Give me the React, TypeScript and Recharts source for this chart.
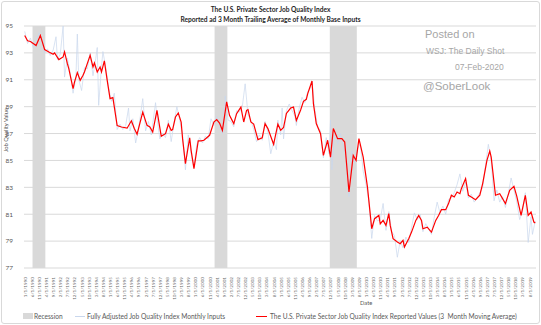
import { ComposedChart, Line, XAxis, YAxis, CartesianGrid, ReferenceArea } from 'recharts';

// x values are months counted from Jan 1990 (0 = 1/1/1990)
const avgMonths = [
  0, 2, 4, 6, 8, 11, 14, 17, 20, 21, 24, 27, 28, 30, 31, 34, 35, 37, 39, 41,
  42, 44, 46, 48, 49, 51, 53, 54, 56, 58, 60, 62, 65, 68, 72, 75, 77, 79, 83, 86,
  88, 90, 93, 96, 99, 101, 103, 104, 106, 108, 110, 111, 113, 116, 117, 119, 122, 124, 126, 128,
  130, 133, 135, 137, 139, 142, 144, 147, 149, 152, 154, 156, 157, 159, 161, 164, 167, 169, 171, 175,
  178, 180, 182, 184, 187, 189, 191, 194, 196, 198, 199, 202, 203, 205, 208, 210, 213, 215, 217, 220,
  223, 225, 228, 231, 233, 235, 238, 241, 244, 246, 249, 250, 252, 254, 256, 257, 259, 262, 264, 266,
  267, 270, 272, 275, 277, 279, 280, 283, 286, 289, 291, 293, 296, 298, 300, 302, 304, 306, 307, 310,
  312, 314, 317, 320, 322, 325, 327, 328, 331, 334, 338, 341, 344, 346, 349, 352, 354, 356, 358, 359,
];
const avgValues = [
  94.3, 93.9, 93.85, 93.7, 93.55, 94.3, 93.25, 93.07, 92.9, 93.0, 92.5, 92.7, 93.07, 92.2, 91.83, 90.34, 90.83, 91.53, 90.96, 91.33,
  91.58, 92.2, 92.82, 91.95, 92.25, 91.58, 91.95, 91.58, 92.4, 90.96, 89.6, 89.67, 87.6, 87.49, 87.4, 87.95, 87.4, 86.95, 88.6, 87.61,
  87.49, 87.11, 88.73, 86.79, 86.99, 87.69, 87.24, 87.29, 88.23, 88.53, 87.86, 86.62, 84.76, 86.69, 85.75, 84.39, 86.45, 86.45, 86.5, 86.69,
  86.87, 87.86, 88.04, 87.78, 87.24, 89.35, 88.36, 87.74, 88.48, 88.97, 87.86, 88.73, 88.78, 87.86, 87.7, 86.55, 86.69, 87.74, 87.37, 86.2,
  87.7, 87.24, 87.45, 88.5, 88.9, 88.97, 87.98, 88.75, 89.4, 89.55, 89.97, 90.91, 89.22, 87.74, 86.99, 85.38, 86.5, 85.25, 87.37, 86.62,
  86.62, 86.37, 82.65, 85.38, 85.0, 86.62, 85.25, 83.02, 79.92, 80.67, 80.91, 80.29, 80.54, 80.17, 81.04, 80.17, 79.18, 78.93, 78.81, 79.06,
  78.56, 79.18, 79.67, 80.54, 80.91, 80.54, 79.92, 80.04, 79.67, 80.54, 80.91, 81.34, 81.34, 81.79, 82.41, 82.28, 82.65, 82.53, 82.9, 83.65,
  82.41, 82.28, 82.08, 82.41, 83.28, 85.0, 85.7, 85.25, 82.41, 82.53, 81.79, 82.78, 83.07, 82.33, 80.91, 82.41, 80.91, 81.16, 80.42, 80.34,
];

const inputMonths = [
  0, 2, 4, 6, 8, 10, 12, 14, 16, 18, 20, 22, 23, 25, 27, 28, 30, 32, 34, 36,
  37, 38, 40, 42, 44, 46, 48, 50, 51, 52, 54, 55, 57, 59, 61, 63, 65, 67, 69, 71,
  73, 74, 76, 78, 80, 83, 85, 87, 89, 92, 93, 95, 97, 99, 101, 103, 105, 107, 109, 111,
  113, 115, 117, 119, 121, 123, 125, 127, 129, 131, 133, 135, 137, 139, 141, 143, 145, 147, 149, 151,
  153, 155, 157, 159, 161, 163, 165, 167, 169, 171, 173, 175, 177, 178, 180, 181, 182, 184, 186, 188,
  190, 191, 193, 195, 197, 199, 201, 202, 204, 206, 208, 210, 212, 214, 215, 216, 218, 220, 222, 224,
  226, 228, 230, 232, 234, 236, 238, 240, 242, 244, 246, 248, 250, 252, 254, 256, 258, 260, 262, 264,
  266, 268, 270, 272, 274, 276, 278, 280, 282, 284, 286, 288, 290, 292, 294, 296, 298, 300, 302, 304,
  306, 308, 310, 312, 314, 316, 318, 320, 322, 324, 326, 328, 330, 332, 334, 336, 338, 340, 342, 344,
  346, 348, 350, 352, 354, 356, 357, 359,
];
const inputValues = [
  94.6, 93.7, 94.1, 93.4, 93.8, 94.5, 93.9, 93.0, 93.3, 92.8, 93.2, 94.2, 92.5, 92.9, 95.0, 91.2, 92.6, 91.5, 90.0, 91.2,
  94.4, 91.0, 90.2, 91.9, 91.8, 93.0, 91.3, 92.6, 93.4, 89.1, 92.0, 93.1, 91.9, 90.4, 89.4, 90.0, 87.3, 87.7, 87.3, 87.6,
  88.9, 87.2, 88.1, 86.3, 87.3, 89.6, 87.2, 87.9, 86.9, 89.3, 88.2, 86.6, 87.0, 86.7, 88.0, 86.4, 87.8, 89.0, 88.0, 86.9,
  84.3, 86.9, 85.5, 84.5, 86.2, 86.7, 86.3, 86.8, 86.6, 88.1, 87.6, 88.3, 87.5, 87.0, 89.8, 88.0, 87.9, 87.5, 88.7, 88.6,
  89.0, 90.7, 88.4, 88.0, 87.3, 86.4, 86.9, 86.5, 87.9, 87.1, 85.5, 86.4, 85.8, 88.0, 86.9, 88.9, 86.6, 88.7, 89.2, 88.7,
  88.3, 87.6, 88.9, 89.7, 89.3, 90.1, 90.4, 90.9, 88.8, 87.5, 87.2, 85.2, 86.7, 85.5, 88.0, 84.3, 87.2, 86.2, 87.0, 86.0,
  85.3, 82.3, 85.7, 84.8, 85.9, 86.2, 84.2, 83.2, 82.0, 79.2, 80.9, 80.5, 80.6, 81.8, 79.8, 81.2, 79.7, 79.4, 77.8, 79.0,
  78.5, 79.3, 78.9, 80.0, 81.1, 80.6, 81.0, 79.7, 80.3, 79.9, 79.5, 80.8, 81.9, 81.1, 81.6, 81.0, 82.1, 82.2, 82.6, 83.2,
  84.0, 82.7, 83.4, 82.2, 82.5, 81.9, 82.2, 82.6, 83.0, 84.6, 86.2, 85.0, 82.0, 82.8, 81.9, 82.3, 81.5, 82.5, 83.7, 82.8,
  81.9, 80.6, 81.2, 82.6, 78.9, 80.8, 79.5, 80.5,
];

// recessions: [first month, last month]
const recessions = [
  [6, 14],
  [134, 142],
  [215, 233],
];

const yTicks = [77, 79, 81, 83, 85, 87, 89, 91, 93, 95];
const xTicks = Array.from({ length: 72 }, (_, k) => k * 5);

const avgData = avgMonths.map((m, i) => ({ m, v: avgValues[i] }));
const inputData = inputMonths.map((m, i) => ({ m, v: inputValues[i] }));

const monthLabel = (m: number) => `${(m % 12) + 1}/1/${1990 + Math.floor(m / 12)}`;

const FONT = 'Lato, "Liberation Sans", sans-serif';
const GREY = '#595959';

function DateTick({ x, y, payload }: any) {
  return (
    <text
      x={x}
      y={y}
      transform={`rotate(-90 ${x} ${y})`}
      textAnchor="end"
      dominantBaseline="central"
      fontSize={4.6}
      fontFamily={FONT}
      fill="#6f6f6f"
    >
      {monthLabel(payload.value)}
    </text>
  );
}

const abs = (left: number, top: number, extra: React.CSSProperties = {}): React.CSSProperties => ({
  position: 'absolute',
  left,
  top,
  whiteSpace: 'nowrap',
  lineHeight: 1,
  ...extra,
});

export default function App() {
  return (
    <div
      style={{
        position: 'absolute',
        left: 0,
        top: 0,
        width: 541,
        height: 325,
        background: '#fff',
        fontFamily: FONT,
      }}
    >
      <div
        style={{
          position: 'absolute',
          left: 1,
          top: 1,
          width: 537,
          height: 321,
          border: '1px solid #d9d9d9',
          borderRadius: 3,
        }}
      />
      <ComposedChart
        width={541}
        height={325}
        margin={{ top: 26, right: 5, bottom: 0, left: 0 }}
      >
        <CartesianGrid horizontal vertical={false} stroke="#d9d9d9" strokeWidth={1} />
        <XAxis
          dataKey="m"
          type="number"
          domain={[-0.5, 359.5]}
          ticks={xTicks}
          interval={0}
          height={57}
          axisLine={false}
          tickLine={false}
          tickMargin={3}
          tick={<DateTick />}
          allowDuplicatedCategory={false}
        />
        <YAxis
          type="number"
          domain={[77, 95]}
          ticks={yTicks}
          width={24}
          axisLine={false}
          tickLine={false}
          tickMargin={5}
          tick={{ fontSize: 6.5, fill: GREY, fontFamily: FONT }}
        />
        {recessions.map(([a, b]) => (
          <ReferenceArea
            key={a}
            x1={a - 0.5}
            x2={b + 0.5}
            y1={77}
            y2={95}
            fill="#d9d9d9"
            fillOpacity={1}
            stroke="none"
            ifOverflow="hidden"
          />
        ))}
        <Line
          data={inputData}
          dataKey="v"
          type="linear"
          stroke="#c9d7ed"
          strokeWidth={0.7}
          dot={false}
          activeDot={false}
          isAnimationActive={false}
        />
        <Line
          data={avgData}
          dataKey="v"
          type="linear"
          stroke="#ff0000"
          strokeWidth={1.2}
          dot={false}
          activeDot={false}
          isAnimationActive={false}
        />
      </ComposedChart>

      {/* title */}
      <div style={abs(0, 6, { width: 541, textAlign: 'center', fontSize: 6.6, fontWeight: 700, color: '#262626' })}>
        The U.S. Private Sector Job Quality Index
      </div>
      <div style={abs(0, 16, { width: 541, textAlign: 'center', fontSize: 6.6, fontWeight: 700, color: '#262626' })}>
        Reported ad 3 Month Trailing Average of Monthly Base Inputs
      </div>

      {/* axis titles */}
      <div
        style={abs(6, 130, {
          fontSize: 5.8,
          color: GREY,
          transform: 'translate(-50%, -50%) rotate(-90deg)',
        })}
      >
        Job Quality Value
      </div>
      <div style={abs(360, 300, { fontSize: 5.8, color: GREY })}>Date</div>

      {/* watermark */}
      <div style={abs(425, 29, { fontSize: 11, color: '#a6a6a6', fontFamily: '"Liberation Sans", Arial, sans-serif' })}>
        Posted on
      </div>
      <div style={abs(426, 47, { fontSize: 8.5, color: '#a6a6a6', fontFamily: '"Liberation Sans", Arial, sans-serif' })}>
        WSJ: The Daily Shot
      </div>
      <div style={abs(455, 63, { fontSize: 8.5, color: '#a6a6a6', fontFamily: '"Liberation Sans", Arial, sans-serif' })}>
        07-Feb-2020
      </div>
      <div style={abs(423, 81, { fontSize: 11.5, color: '#a6a6a6', fontFamily: '"Liberation Sans", Arial, sans-serif' })}>
        @SoberLook
      </div>

      {/* legend */}
      <div style={abs(23, 313, { width: 10, height: 6, background: '#d9d9d9' })} />
      <div style={abs(34, 313, { fontSize: 6.6, color: GREY })}>Recession</div>
      <div style={abs(75, 316, { width: 10, height: 1, background: '#c9d7ed' })} />
      <div style={abs(87, 313, { fontSize: 6.6, color: GREY })}>
        Fully Adjusted Job Quality Index Monthly Inputs
      </div>
      <div style={abs(256, 315.5, { width: 11, height: 1.5, background: '#ff0000' })} />
      <div style={abs(270, 313, { fontSize: 6.6, color: GREY })}>
        The U.S. Private Sector Job Quality Index Reported Values (3&nbsp; Month Moving Average)
      </div>
    </div>
  );
}
